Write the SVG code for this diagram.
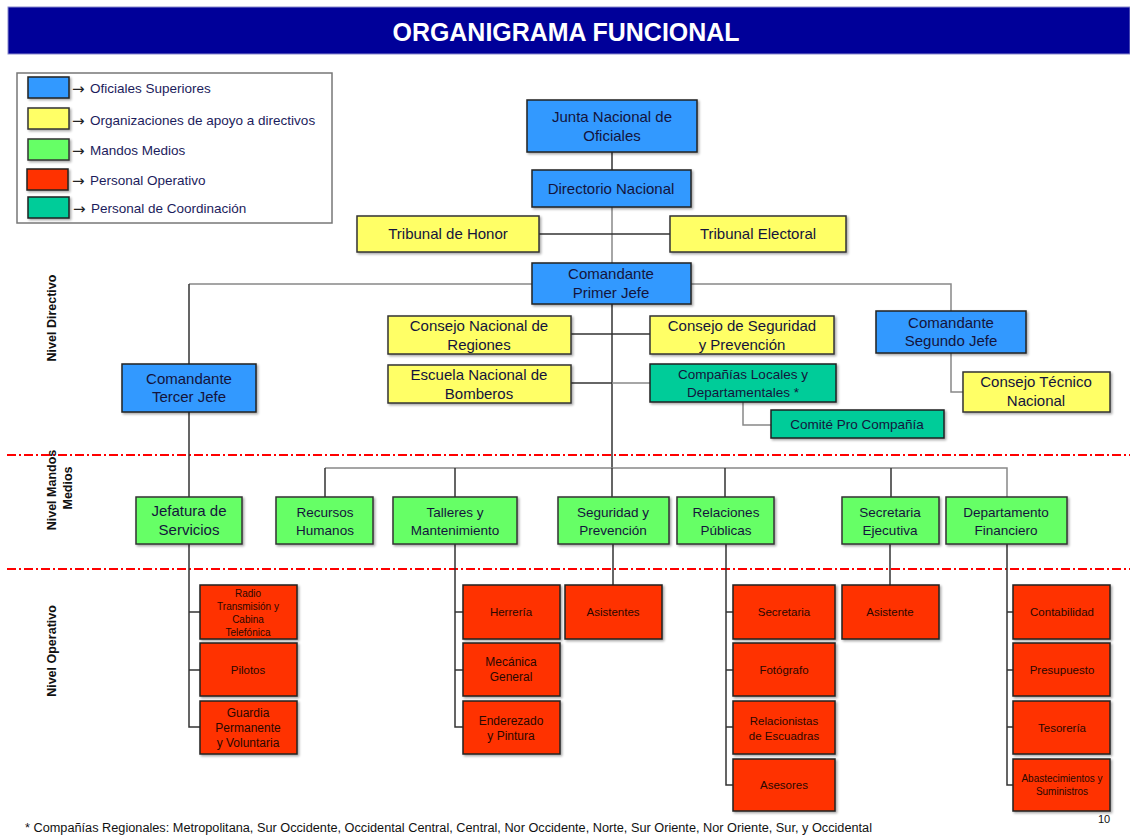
<svg xmlns="http://www.w3.org/2000/svg" width="1130" height="835" viewBox="0 0 1130 835">
<defs>
<filter id="sh" x="-10%" y="-10%" width="130%" height="140%"><feDropShadow dx="1.5" dy="1.5" stdDeviation="0.8" flood-color="#000" flood-opacity="0.35"/></filter>
<style>
.t{font-family:"Liberation Sans",Arial,sans-serif;text-anchor:middle;fill:#14143c}
.b{fill:#3399ff;stroke:#222;stroke-width:1.5;filter:url(#sh)}
.y{fill:#ffff66;stroke:#333;stroke-width:1.5;filter:url(#sh)}
.g{fill:#66ff66;stroke:#333;stroke-width:1.5;filter:url(#sh)}
.r{fill:#ff3300;stroke:#222;stroke-width:1.5;filter:url(#sh)}
.c{fill:#00cc99;stroke:#222;stroke-width:1.5;filter:url(#sh)}
.f15{font-size:15px}
.f14{font-size:14px}
.f13{font-size:13.5px}
.f12{font-size:12px}
.f11{font-size:11.5px}
.f10{font-size:10px}
.rt{fill:#2a0800}
.ln{fill:none;stroke:#333;stroke-width:1.5}
.lg{fill:none;stroke:#888;stroke-width:1.5}
.dd{fill:none;stroke:#ff0000;stroke-width:2;stroke-dasharray:9 3 2 3}
.side{font-family:"Liberation Sans",Arial,sans-serif;font-weight:bold;font-size:12.5px;text-anchor:middle;fill:#111}
.leg{font-family:"Liberation Sans",Arial,sans-serif;font-size:13.5px;fill:#1c1c5c}
.ar{font-family:"DejaVu Sans",sans-serif;font-size:15px;fill:#222}
</style>
</defs>
<rect width="1130" height="835" fill="#fff"/>
<g id="title">
<rect x="8" y="7" width="1122" height="47" fill="#000099" stroke="#8888cc" stroke-width="1"/>
<text x="566" y="41" font-family="Liberation Sans,Arial,sans-serif" font-weight="bold" font-size="25" fill="#fff" text-anchor="middle" textLength="347" lengthAdjust="spacingAndGlyphs">ORGANIGRAMA FUNCIONAL</text>
</g>
<g id="legend">
<rect x="17" y="73" width="315" height="150" fill="#fff" stroke="#777" stroke-width="1.5"/>
<rect x="28" y="77" width="41" height="21" class="b"/>
<rect x="28" y="108" width="41" height="21" class="y"/>
<rect x="28" y="139" width="41" height="21" class="g"/>
<rect x="27" y="169" width="41" height="21" class="r"/>
<rect x="28" y="197" width="41" height="21" class="c"/>
<text class="ar" x="72" y="94">→</text>
<text class="ar" x="72" y="126">→</text>
<text class="ar" x="72" y="156">→</text>
<text class="ar" x="72" y="186">→</text>
<text class="ar" x="73" y="214">→</text>
<text class="leg" x="90" y="93">Oficiales Superiores</text>
<text class="leg" x="90" y="125">Organizaciones de apoyo a directivos</text>
<text class="leg" x="90" y="155">Mandos Medios</text>
<text class="leg" x="90" y="185">Personal Operativo</text>
<text class="leg" x="91" y="213">Personal de Coordinación</text>
</g>
<g id="levels">
<line x1="7" y1="455" x2="1130" y2="455" class="dd"/>
<line x1="7" y1="569" x2="1130" y2="569" class="dd"/>
<text class="side" transform="translate(56,318) rotate(-90)">Nivel Directivo</text>
<text class="side" transform="translate(56,490) rotate(-90)">Nivel Mandos</text>
<text class="side" transform="translate(72,488) rotate(-90)">Medios</text>
<text class="side" transform="translate(56,651) rotate(-90)">Nivel Operativo</text>
</g>
<g id="connectors">
<path class="ln" d="M612 152V170"/>
<path class="lg" d="M612 207V263"/>
<path class="ln" d="M539 234H670"/>
<path class="lg" d="M189 284H532M691 284H951V311"/>
<path class="ln" d="M189 284V364M189 412V497"/>
<path class="ln" d="M612 304V468"/>
<path class="ln" d="M571 334H650"/>
<path class="ln" d="M571 383H612"/>
<path class="lg" d="M612 383H650"/>
<path class="lg" d="M743 402V425H771"/>
<path class="lg" d="M951 353V392H963"/>
<path class="lg" d="M325 468H1007V497"/>
<path class="ln" d="M325 468V497M455 468V497M725 468V497M891 468V497M612 468V497"/>
<path class="ln" d="M189 544V727H200M189 612H200M189 670H200"/>
<path class="ln" d="M455 544V727H463M455 612H463M455 670H463"/>
<path class="ln" d="M613 544V585"/>
<path class="ln" d="M726 544V785H733M726 612H733M726 670H733M726 727H733"/>
<path class="ln" d="M890 544V585"/>
<path class="ln" d="M1007 544V785H1013M1007 612H1013M1007 670H1013M1007 727H1013"/>
</g>
<g id="junta"><rect x="527" y="100" width="170" height="52" class="b"/><text class="t f15" x="612" y="122">Junta Nacional de</text><text class="t f15" x="612" y="141">Oficiales</text></g>
<g id="directorio"><rect x="532" y="170" width="159" height="37" class="b"/><text class="t f15" x="611" y="194">Directorio Nacional</text></g>
<g id="tribunal-honor"><rect x="357" y="216" width="182" height="36" class="y"/><text class="t f15" x="448" y="239">Tribunal de Honor</text></g>
<g id="tribunal-electoral"><rect x="670" y="216" width="176" height="36" class="y"/><text class="t f15" x="758" y="239">Tribunal Electoral</text></g>
<g id="primer-jefe"><rect x="532" y="263" width="159" height="41" class="b"/><text class="t f15" x="611" y="279">Comandante</text><text class="t f15" x="611" y="298">Primer Jefe</text></g>
<g id="consejo-regiones"><rect x="388" y="316" width="183" height="38" class="y"/><text class="t f15" x="479" y="331">Consejo Nacional de</text><text class="t f15" x="479" y="350">Regiones</text></g>
<g id="consejo-seguridad"><rect x="650" y="316" width="184" height="38" class="y"/><text class="t f15" x="742" y="331">Consejo de Seguridad</text><text class="t f15" x="742" y="350">y Prevención</text></g>
<g id="escuela"><rect x="388" y="365" width="183" height="38" class="y"/><text class="t f15" x="479" y="380">Escuela Nacional de</text><text class="t f15" x="479" y="399">Bomberos</text></g>
<g id="companias"><rect x="650" y="364" width="186" height="38" class="c"/><text class="t f13" x="743" y="379">Compañías Locales y</text><text class="t f13" x="743" y="397">Departamentales *</text></g>
<g id="comite"><rect x="771" y="410" width="173" height="28" class="c"/><text class="t f13" x="857" y="429">Comité Pro Compañía</text></g>
<g id="segundo-jefe"><rect x="876" y="311" width="150" height="42" class="b"/><text class="t f15" x="951" y="328">Comandante</text><text class="t f15" x="951" y="346">Segundo Jefe</text></g>
<g id="consejo-tecnico"><rect x="963" y="372" width="147" height="40" class="y"/><text class="t f15" x="1036" y="387">Consejo Técnico</text><text class="t f15" x="1036" y="406">Nacional</text></g>
<g id="tercer-jefe"><rect x="122" y="364" width="134" height="48" class="b"/><text class="t f15" x="189" y="384">Comandante</text><text class="t f15" x="189" y="402">Tercer Jefe</text></g>
<g id="jefatura"><rect x="136" y="497" width="106" height="47" class="g"/><text class="t f15" x="189" y="516">Jefatura de</text><text class="t f15" x="189" y="535">Servicios</text></g>
<g id="rrhh"><rect x="276" y="497" width="97" height="47" class="g"/><text class="t f13" x="325" y="517">Recursos</text><text class="t f13" x="325" y="535">Humanos</text></g>
<g id="talleres"><rect x="393" y="497" width="124" height="47" class="g"/><text class="t f13" x="455" y="517">Talleres y</text><text class="t f13" x="455" y="535">Mantenimiento</text></g>
<g id="seguridad"><rect x="558" y="497" width="111" height="47" class="g"/><text class="t f13" x="613" y="517">Seguridad y</text><text class="t f13" x="613" y="535">Prevención</text></g>
<g id="relaciones"><rect x="677" y="497" width="97" height="47" class="g"/><text class="t f13" x="726" y="517">Relaciones</text><text class="t f13" x="726" y="535">Públicas</text></g>
<g id="secretaria-ejecutiva"><rect x="842" y="497" width="97" height="47" class="g"/><text class="t f13" x="890" y="517">Secretaria</text><text class="t f13" x="890" y="535">Ejecutiva</text></g>
<g id="financiero"><rect x="946" y="497" width="121" height="47" class="g"/><text class="t f13" x="1006" y="517">Departamento</text><text class="t f13" x="1006" y="535">Financiero</text></g>
<g id="radio"><rect x="200" y="585" width="97" height="54" class="r"/><text class="t f10 rt" x="248" y="597">Radio</text><text class="t f10 rt" x="248" y="610">Transmisión y</text><text class="t f10 rt" x="248" y="623">Cabina</text><text class="t f10 rt" x="248" y="636">Telefónica</text></g>
<g id="pilotos"><rect x="200" y="643" width="97" height="53" class="r"/><text class="t f11 rt" x="248" y="674">Pilotos</text></g>
<g id="guardia"><rect x="200" y="701" width="97" height="53" class="r"/><text class="t f12 rt" x="248" y="717">Guardia</text><text class="t f12 rt" x="248" y="732">Permanente</text><text class="t f12 rt" x="248" y="747">y Voluntaria</text></g>
<g id="herreria"><rect x="463" y="585" width="97" height="54" class="r"/><text class="t f11 rt" x="511" y="616">Herrería</text></g>
<g id="mecanica"><rect x="463" y="643" width="97" height="53" class="r"/><text class="t f12 rt" x="511" y="666">Mecánica</text><text class="t f12 rt" x="511" y="681">General</text></g>
<g id="enderezado"><rect x="463" y="701" width="97" height="53" class="r"/><text class="t f12 rt" x="511" y="725">Enderezado</text><text class="t f12 rt" x="511" y="740">y Pintura</text></g>
<g id="asistentes"><rect x="565" y="585" width="97" height="54" class="r"/><text class="t f11 rt" x="613" y="616">Asistentes</text></g>
<g id="secretaria"><rect x="733" y="585" width="102" height="54" class="r"/><text class="t f11 rt" x="784" y="616">Secretaria</text></g>
<g id="fotografo"><rect x="733" y="643" width="102" height="53" class="r"/><text class="t f11 rt" x="784" y="674">Fotógrafo</text></g>
<g id="relacionistas"><rect x="733" y="701" width="102" height="53" class="r"/><text class="t f11 rt" x="784" y="725">Relacionistas</text><text class="t f11 rt" x="784" y="740">de Escuadras</text></g>
<g id="asesores"><rect x="733" y="759" width="102" height="52" class="r"/><text class="t f11 rt" x="784" y="789">Asesores</text></g>
<g id="asistente"><rect x="842" y="585" width="97" height="54" class="r"/><text class="t f11 rt" x="890" y="616">Asistente</text></g>
<g id="contabilidad"><rect x="1013" y="585" width="97" height="54" class="r"/><text class="t f11 rt" x="1062" y="616">Contabilidad</text></g>
<g id="presupuesto"><rect x="1013" y="643" width="97" height="53" class="r"/><text class="t f11 rt" x="1062" y="674">Presupuesto</text></g>
<g id="tesoreria"><rect x="1013" y="701" width="97" height="53" class="r"/><text class="t f11 rt" x="1062" y="732">Tesorería</text></g>
<g id="abastecimientos"><rect x="1013" y="759" width="97" height="52" class="r"/><text class="t f10 rt" x="1062" y="782">Abastecimientos y</text><text class="t f10 rt" x="1062" y="795">Suministros</text></g>
<g id="footer">
<text x="25" y="832" font-family="Liberation Sans,Arial,sans-serif" font-size="12" fill="#111" textLength="847" lengthAdjust="spacingAndGlyphs">*  Compañías Regionales:  Metropolitana, Sur Occidente, Occidental Central, Central, Nor Occidente, Norte, Sur Oriente, Nor Oriente, Sur, y Occidental</text>
<text x="1104" y="823" font-family="Liberation Sans,Arial,sans-serif" font-size="11" fill="#111" text-anchor="middle">10</text>
</g>
</svg>
